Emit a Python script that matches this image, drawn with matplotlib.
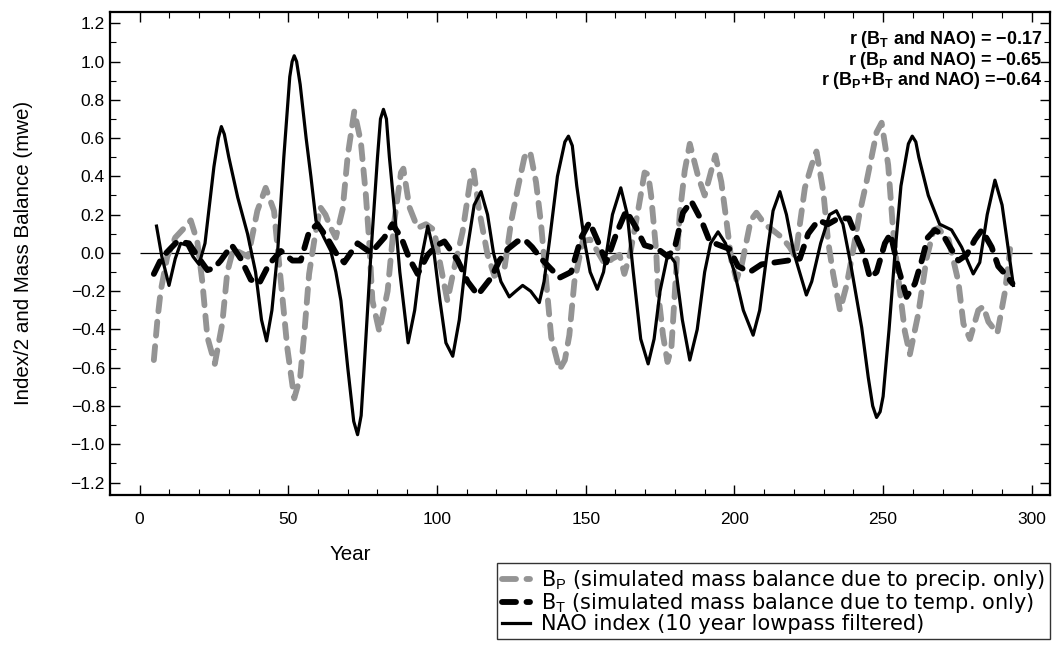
import matplotlib
matplotlib.use("Agg")
import matplotlib.pyplot as plt
from matplotlib.ticker import MultipleLocator

plt.rcParams['font.family'] = ['Liberation Sans', 'DejaVu Sans']
plt.rcParams['mathtext.fontset'] = 'custom'
plt.rcParams['mathtext.rm'] = 'Liberation Sans'
plt.rcParams['mathtext.bf'] = 'Liberation Sans:bold'

# NAO index (10 yr lowpass), halved
nao_year = [5.7, 7.5, 9.9, 12, 13.8, 16, 18, 20, 22, 25, 26.5, 27.5, 28.5, 30, 33, 36.3, 39,
            41, 42.7, 44.5, 46.4, 48.5, 50.5, 51.3, 52, 52.8, 54, 56, 57.6, 59.3, 62, 64.3,
            66, 67.7, 70, 72, 73.3, 74.5, 75.5, 77.8, 80, 81, 82, 83, 84, 85.6, 87.5, 90.3,
            92.5, 94.5, 96.9, 99, 101, 103, 105.3, 107.5, 110, 112.5, 114.8, 117, 119, 121.5,
            124.3, 126.5, 128.8, 131.5, 134.4, 136, 137.8, 140.5, 143, 144.2, 145.5, 147,
            149.6, 151.5, 153.9, 156, 159, 161.8, 164, 166, 168.5, 171, 173, 175, 177.7, 180,
            182.5, 185, 187.5, 190, 192, 194.5, 197, 200, 203, 206.3, 208.5, 211, 213, 215.3,
            217.5, 220, 224.2, 226, 229, 232, 234.3, 236.5, 239, 242.8, 245, 246.5, 247.8,
            249, 250, 252, 254, 256, 258.5, 259.8, 261, 262, 265.2, 269, 273, 276.4, 280.3,
            282.5, 285, 287.6, 290, 293.8]
nao_val = [0.14, -0.02, -0.17, -0.03, 0.05, 0.04, -0.02, -0.06, 0.05, 0.45, 0.6, 0.66, 0.62,
           0.5, 0.29, 0.1, -0.1, -0.35, -0.46, -0.3, 0.0, 0.5, 0.92, 1.0, 1.03, 1.0, 0.88,
           0.6, 0.4, 0.17, 0.08, 0.01, -0.1, -0.25, -0.6, -0.88, -0.95, -0.85, -0.6, 0.0,
           0.5, 0.7, 0.75, 0.7, 0.5, 0.24, -0.1, -0.47, -0.3, -0.05, 0.14, 0.0, -0.25, -0.47,
           -0.54, -0.35, 0.0, 0.25, 0.32, 0.2, 0.0, -0.15, -0.23, -0.2, -0.17, -0.2, -0.26,
           -0.15, 0.06, 0.4, 0.58, 0.61, 0.56, 0.35, 0.06, -0.1, -0.19, -0.1, 0.2, 0.34, 0.2,
           -0.1, -0.45, -0.58, -0.45, -0.2, 0.0, -0.05, -0.35, -0.56, -0.4, -0.1, 0.05, 0.11,
           0.05, -0.1, -0.3, -0.43, -0.3, 0.0, 0.22, 0.32, 0.2, 0.0, -0.22, -0.15, 0.05, 0.2,
           0.22, 0.15, -0.05, -0.39, -0.65, -0.8, -0.86, -0.83, -0.75, -0.4, 0.0, 0.35, 0.57,
           0.61, 0.58, 0.5, 0.3, 0.15, 0.12, 0.03, -0.11, -0.05, 0.2, 0.38, 0.25, -0.17]

# B_T: mass balance due to temperature only
bt_year = [4.8, 7, 9, 12.7, 16.6, 20.5, 22.8, 25, 27.3, 31, 34, 37.4, 40.2, 43.5, 47.5, 51.4,
           54.2, 57, 59.8, 63, 66, 68.8, 71, 73.3, 77.8, 82.3, 85, 88, 90.7, 93.5, 96.9, 100,
           102.5, 107, 110.3, 113.7, 118.2, 121, 123.8, 127, 129.4, 132, 135, 141.2, 145.1,
           148.5, 151.3, 154.1, 156.9, 160.3, 163.6, 167, 169.8, 174.3, 177.7, 180, 182.7,
           185.5, 188.9, 191.7, 195, 198.4, 201.2, 205.2, 209.1, 213.6, 218, 222, 224.8, 228.2,
           231.5, 234.9, 238.5, 241.1, 243.3, 245.6, 247.8, 250.6, 252.5, 255.1, 257.9, 260.7,
           263, 265, 267.4, 270.3, 272.5, 275.3, 278.1, 280.9, 283.2, 286.5, 288.7, 291, 293.5]
bt_val = [-0.11, -0.04, 0.0, 0.06, 0.05, -0.04, -0.09, -0.08, -0.04, 0.04, -0.03, -0.14, -0.16,
          -0.06, 0.01, -0.04, -0.04, 0.11, 0.15, 0.08, 0.0, -0.05, 0.0, 0.05, 0.0, 0.08, 0.15,
          0.08, -0.03, -0.11, -0.01, 0.04, 0.06, -0.04, -0.15, -0.22, -0.13, -0.04, 0.02, 0.06,
          0.07, 0.03, -0.03, -0.13, -0.1, 0.08, 0.16, 0.06, -0.05, 0.1, 0.22, 0.13, 0.04, 0.02,
          -0.02, 0.03, 0.21, 0.27, 0.17, 0.06, 0.04, 0.02, -0.07, -0.1, -0.06, -0.05, -0.04,
          -0.03, 0.1, 0.17, 0.15, 0.18, 0.18, 0.08, 0.0, -0.13, -0.1, 0.05, 0.1, -0.08, -0.23,
          -0.16, -0.04, 0.08, 0.12, 0.09, 0.03, -0.04, -0.01, 0.07, 0.12, 0.03, -0.07, -0.11,
          -0.16]

# B_P: mass balance due to precipitation only
bp_year = [4.8, 6, 7.1, 9.3, 12, 15, 17.2, 19.4, 21.1, 22.8, 25.3, 27.8, 29.5, 31.5, 34, 36.5,
           39.6, 42.4, 45.2, 47.5, 49.7, 52, 54, 55.5, 57, 58.7, 60.7, 62.5, 64.3, 66, 68.3, 70,
           72.2, 74.4, 76.1, 77.2, 78.3, 80.6, 83.4, 85.6, 87.9, 88.7, 90.7, 93.5, 96.3, 99,
           101, 102.5, 103.5, 105.5, 108.6, 111.4, 112.3, 114.2, 117, 119.3, 122.7, 124.9,
           127.2, 129.4, 131.3, 133.3, 135, 137.3, 138.4, 141.2, 143, 144.5, 146.2, 149, 151.5,
           153.5, 156.5, 159, 161.4, 163, 165, 167.6, 169.8, 171, 172, 173.7, 174.3, 176,
           177.5, 178.8, 180, 181.6, 183.3, 185, 187.8, 190, 193.6, 195.6, 197.3, 199, 200.7,
           202.5, 205.5, 207.4, 210.2, 213.6, 216, 218.6, 220.5, 223.7, 226, 227.6, 229.9,
           231.5, 233.2, 235.5, 237.7, 240, 242, 244.4, 247.8, 249.5, 251.7, 253.4, 255.1,
           257.3, 259, 261.8, 264.6, 267, 268.6, 270, 272, 275.3, 277, 279.2, 282, 283.7,
           285.4, 288.4, 291, 292.7]
bp_val = [-0.56, -0.35, -0.2, -0.02, 0.08, 0.13, 0.17, 0.06, -0.15, -0.44, -0.58, -0.37, -0.1,
          0.02, 0.0, -0.02, 0.22, 0.34, 0.22, -0.15, -0.5, -0.76, -0.65, -0.4, -0.11, 0.06,
          0.24, 0.2, 0.13, 0.08, 0.23, 0.51, 0.74, 0.58, 0.3, 0.06, -0.25, -0.41, -0.2, 0.16,
          0.42, 0.44, 0.24, 0.13, 0.15, 0.12, -0.05, -0.17, -0.25, -0.1, 0.11, 0.4, 0.43,
          0.22, -0.01, -0.12, -0.08, 0.16, 0.34, 0.5, 0.53, 0.37, 0.15, -0.25, -0.44, -0.61,
          -0.56, -0.43, -0.15, 0.06, 0.07, 0.02, -0.06, -0.03, -0.01, -0.11, 0.0, 0.22, 0.42,
          0.41, 0.3, 0.01, -0.2, -0.43, -0.57, -0.5, -0.2, 0.2, 0.43, 0.57, 0.4, 0.3, 0.51,
          0.37, 0.17, -0.04, -0.14, -0.06, 0.17, 0.21, 0.15, 0.11, 0.08, 0.03, -0.02, 0.34,
          0.46, 0.53, 0.32, 0.06, -0.11, -0.3, -0.17, 0.02, 0.2, 0.37, 0.63, 0.68, 0.46,
          0.11, -0.13, -0.41, -0.53, -0.32, -0.03, 0.12, 0.13, 0.1, 0.07, -0.15, -0.37, -0.45,
          -0.3, -0.28, -0.36, -0.42, -0.2, 0.02]

corr_lines = ['r (B$_\\mathbf{T}$ and NAO) = \u22120.17',
              'r (B$_\\mathbf{P}$ and NAO) = \u22120.65',
              'r (B$_\\mathbf{P}$+B$_\\mathbf{T}$ and NAO) =\u22120.64']

fig = plt.figure(figsize=(10.56, 6.53), dpi=100)
ax = fig.add_axes([0.104, 0.242, 0.890, 0.740])

ax.hlines(0, 0, 300, color='black', lw=0.9, zorder=1)
l_bp, = ax.plot(bp_year, bp_val, color='0.58', lw=4.2, dashes=(2.4, 1.8),
                dash_capstyle='round', zorder=2,
                label=r'B$_\mathrm{P}$ (simulated mass balance due to precip. only)')
l_bt, = ax.plot(bt_year, bt_val, color='black', lw=4.2, dashes=(2.4, 1.8),
                dash_capstyle='round', zorder=3,
                label=r'B$_\mathrm{T}$ (simulated mass balance due to temp. only)')
l_nao, = ax.plot(nao_year, nao_val, color='black', lw=2.3, zorder=4,
                 label='NAO index (10 year lowpass filtered)')

ax.set_xlim(-10, 306)
ax.set_ylim(-1.265, 1.26)
ax.xaxis.set_major_locator(MultipleLocator(50))
ax.xaxis.set_minor_locator(MultipleLocator(10))
ax.yaxis.set_major_locator(MultipleLocator(0.2))
ax.yaxis.set_minor_locator(MultipleLocator(0.1))
ax.yaxis.set_major_formatter(plt.FuncFormatter(lambda v, p: ('%.1f' % v).replace('-', '\u2212')))
ax.tick_params(which='both', direction='in', top=True, right=True, labelsize=12.5)
ax.tick_params(which='major', length=7, width=1)
ax.tick_params(which='minor', length=4, width=0.8)
ax.tick_params(axis='x', pad=12)
for s in ax.spines.values():
    s.set_linewidth(1.6)

ax.set_ylabel('Index/2 and Mass Balance (mwe)', fontsize=14.8)
ax.yaxis.set_label_coords(-0.082, 0.5)
ax.set_xlabel('Year', fontsize=14.8)
ax.xaxis.set_label_coords(0.256, -0.103)

for i, t in enumerate(corr_lines):
    ax.text(0.992, 0.943 - i * 0.043, t, transform=ax.transAxes, ha='right', va='center',
            fontsize=12.9, fontweight='bold')

leg = fig.legend(handles=[l_bp, l_bt, l_nao], loc='upper right',
                 prop={'family': 'DejaVu Sans', 'size': 15.0}, frameon=True, fancybox=False,
                 handlelength=1.35, handletextpad=0.5, borderaxespad=0,
                 labelspacing=-0.05, borderpad=0.25)
leg.set_bbox_to_anchor((0.9945, 1 - 563 / 653), transform=fig.transFigure)
leg.get_frame().set_edgecolor('black')
leg.get_frame().set_linewidth(1.0)

fig.savefig('out.png', dpi=100)
